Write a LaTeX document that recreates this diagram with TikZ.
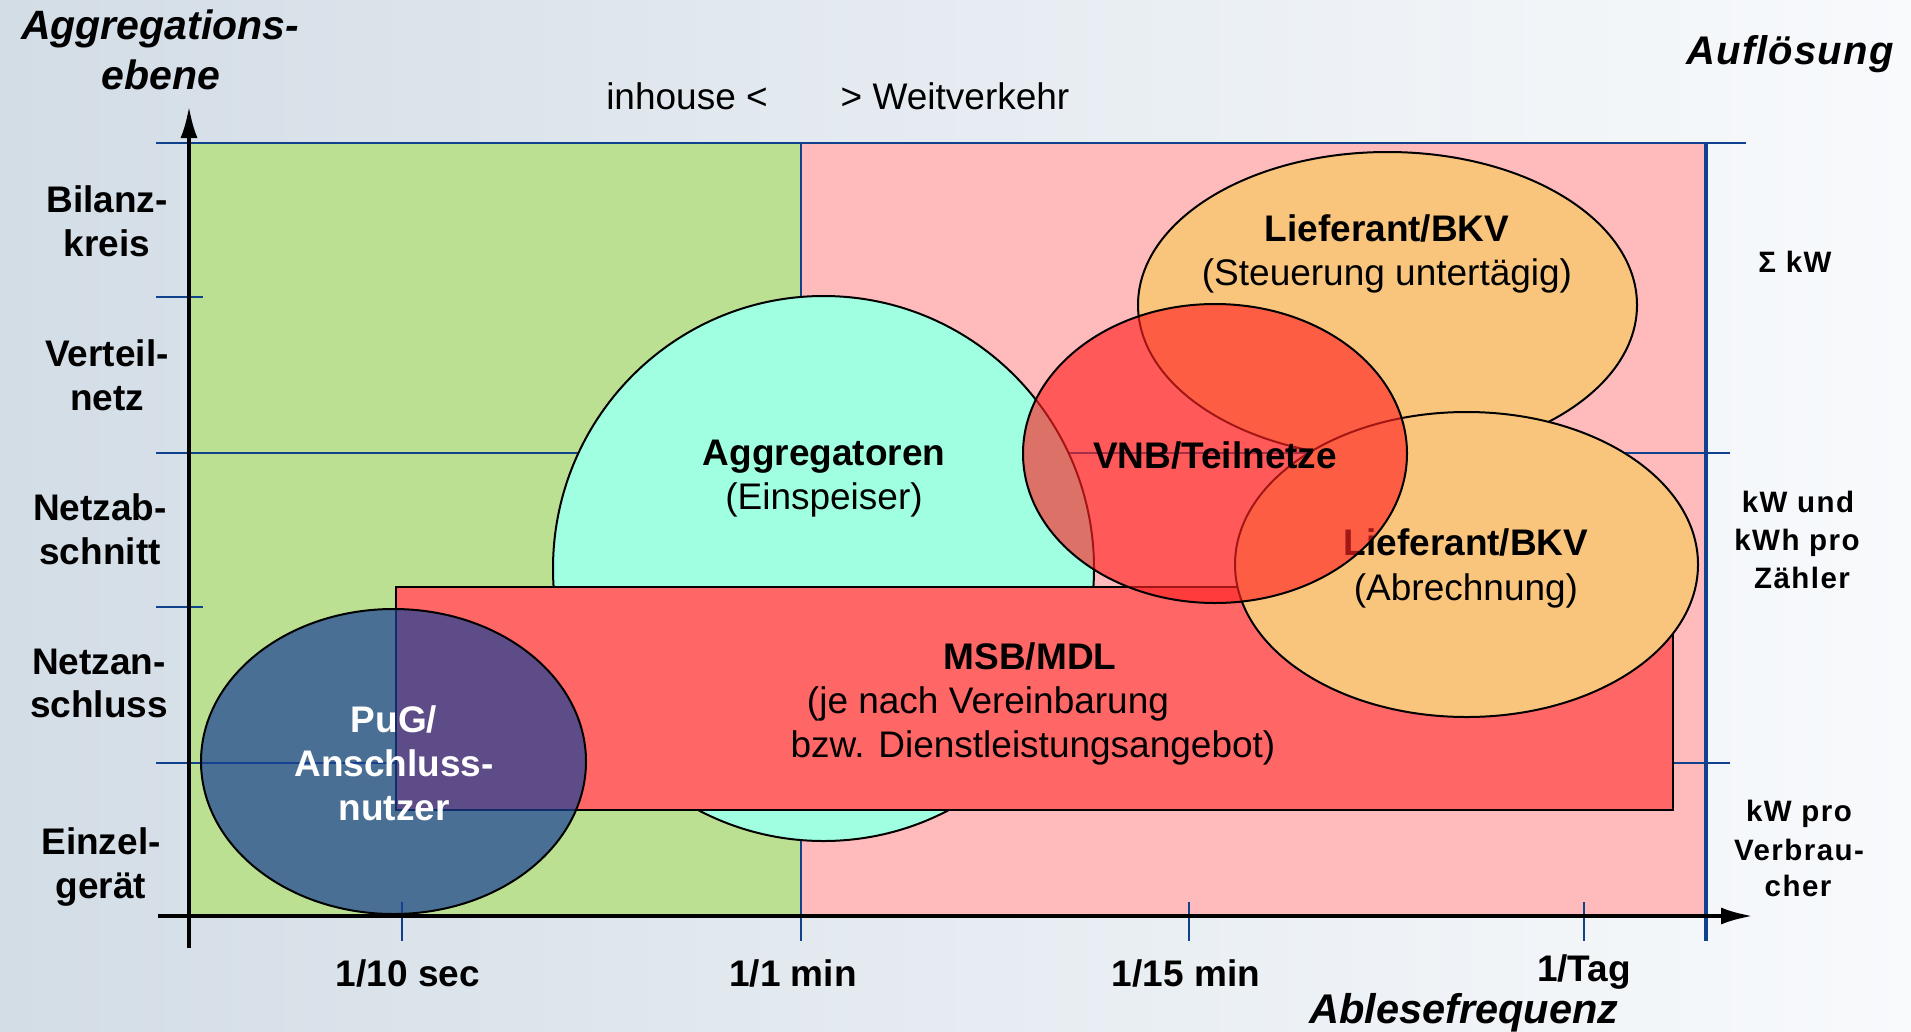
\documentclass[tikz,border=0pt]{standalone}
\usepackage{fontspec}
\setmainfont{Liberation Sans}
\usetikzlibrary{arrows.meta,shapes.geometric}
\definecolor{bgL}{RGB}{211,221,230}
\definecolor{bgR}{RGB}{248,250,252}
\definecolor{grn}{RGB}{187,224,145}
\definecolor{pnk}{RGB}{255,187,187}
\definecolor{gridblue}{RGB}{15,65,140}
\definecolor{cyanf}{RGB}{160,255,224}
\definecolor{msbred}{RGB}{255,102,102}
\definecolor{orng}{RGB}{249,197,125}
\definecolor{vnbred}{RGB}{255,35,35}
\definecolor{pugblue}{RGB}{25,65,150}
\begin{document}
\begin{tikzpicture}[x=1pt,y=-1pt,
  gridline/.style={draw=gridblue,line width=2.4pt},
  axisline/.style={draw=black,line width=4pt,-{Latex[length=32pt,width=17pt]}},
  shapeline/.style={draw=black,line width=2pt},
  oval/.style={ellipse,shapeline,inner sep=0pt},
  txt/.style={anchor=base,inner sep=0pt,font=\fontsize{37}{44}\selectfont},
  btxt/.style={anchor=base,inner sep=0pt,font=\fontsize{37}{44}\selectfont\bfseries},
  atxt/.style={anchor=base,inner sep=0pt,font=\fontsize{41}{50}\selectfont\bfseries\itshape},
  rtxt/.style={anchor=base,inner sep=0pt,font=\fontsize{29.5}{38}\selectfont\bfseries\addfontfeatures{LetterSpace=5}},
]
\useasboundingbox (0,0) rectangle (1911,1031);
\shade[left color=bgL,right color=bgR] (0,0) rectangle (1911,1031);
% regions
\fill[grn] (189,143) rectangle (801,916);
\fill[pnk] (801,143) rectangle (1706,916);
% grid
\draw[gridline] (156,143) -- (1746,143);
\draw[gridline] (156,453) -- (1730,453);
\draw[gridline] (156,763) -- (1730,763);
\draw[gridline] (156,297) -- (203,297);
\draw[gridline] (156,607) -- (203,607);
\draw[gridline] (801,143) -- (801,941);
\draw[gridline,line width=3.4pt] (1706,143) -- (1706,941);
\draw[gridline] (402,902) -- (402,941);
\draw[gridline] (1189,902) -- (1189,941);
\draw[gridline] (1584,902) -- (1584,941);
% shapes
\node[oval,fill=cyanf,minimum width=541pt,minimum height=545pt] (agg) at (823.5,568.5) {};
\node[rectangle,shapeline,fill=msbred,inner sep=0pt,minimum width=1277pt,minimum height=223pt] (msb) at (1034,698.5) {};
\node[oval,fill=orng,minimum width=499pt,minimum height=306pt] (lief1) at (1387.5,305) {};
\node[btxt] (lief1a) at (1387,241) {Lieferant/BKV};
\node[txt] (lief1b) at (1387,285) {(Steuerung untertägig)};
\node[oval,fill=orng,minimum width=463pt,minimum height=305pt] (lief2) at (1466.5,564.5) {};
\node[btxt] (lief2a) at (1466,555) {Lieferant/BKV};
\node[txt] (lief2b) at (1466,600) {(Abrechnung)};
\node[oval,fill=vnbred,fill opacity=0.64,minimum width=384pt,minimum height=299pt] (vnb) at (1215,453.5) {};
\node[btxt] (vnba) at (1215,468) {VNB/Teilnetze};
\node[oval,fill=pugblue,fill opacity=0.7,minimum width=385pt,minimum height=305pt] (pug) at (393.5,761.5) {};
\node[btxt,text=white] (puga) at (394,732) {PuG/};
\node[btxt,text=white] (pugb) at (394,776) {Anschluss-};
\node[btxt,text=white] (pugc) at (394,820) {nutzer};
\node[btxt] (agga) at (824,465) {Aggregatoren};
\node[txt] (aggb) at (824,509) {(Einspeiser)};
\node[btxt] (msba) at (1030,669) {MSB/MDL};
\node[txt] (msbb) at (988,713) {(je nach Vereinbarung};
\node[txt] (msbc) at (1033,757) {bzw. Dienstleistungsangebot)};
% axes
\coordinate (xs) at (158,916);
\coordinate (xe) at (1753,916);
\coordinate (ys) at (189,948);
\coordinate (ye) at (189,106);
\draw[axisline] (xs) -- (xe);
\draw[axisline] (ys) -- (ye);
% axis titles
\node[atxt] (ag1) at (160,39) {Aggregations-};
\node[atxt] (ag2) at (161,89) {ebene};
\node[atxt,font=\fontsize{40}{48}\selectfont\bfseries\itshape\addfontfeatures{LetterSpace=3}] (aufl) at (1790,64) {Auflösung};
\node[atxt,font=\fontsize{41.5}{50}\selectfont\bfseries\itshape] (able) at (1464,1023) {Ablesefrequenz};
\node[txt] (inh) at (687,109) {inhouse <};
\node[txt] (weit) at (955,109) {> Weitverkehr};
% left labels
\node[btxt] (l1a) at (107,212) {Bilanz-};
\node[btxt] (l1b) at (107,256) {kreis};
\node[btxt] (l2a) at (107,366) {Verteil-};
\node[btxt] (l2b) at (107,410) {netz};
\node[btxt] (l3a) at (100,520) {Netzab-};
\node[btxt] (l3b) at (100,564) {schnitt};
\node[btxt] (l4a) at (99,674) {Netzan-};
\node[btxt] (l4b) at (99,717) {schluss};
\node[btxt] (l5a) at (101,854) {Einzel-};
\node[btxt] (l5b) at (101,898) {gerät};
% x labels
\node[btxt] (t1) at (408,986) {1/10 sec};
\node[btxt] (t2) at (793,986) {1/1 min};
\node[btxt] (t3) at (1186,986) {1/15 min};
\node[btxt] (t4) at (1584,981) {1/Tag};
% right labels
\node[rtxt] (r1) at (1795,272) {Σ kW};
\node[rtxt] (r2a) at (1798,512) {kW und};
\node[rtxt] (r2b) at (1797,550) {kWh pro};
\node[rtxt] (r2c) at (1802,588) {Zähler};
\node[rtxt] (r3a) at (1799,821) {kW pro};
\node[rtxt] (r3b) at (1799,860) {Verbrau-};
\node[rtxt] (r3c) at (1798,896) {cher};
\end{tikzpicture}
\end{document}
